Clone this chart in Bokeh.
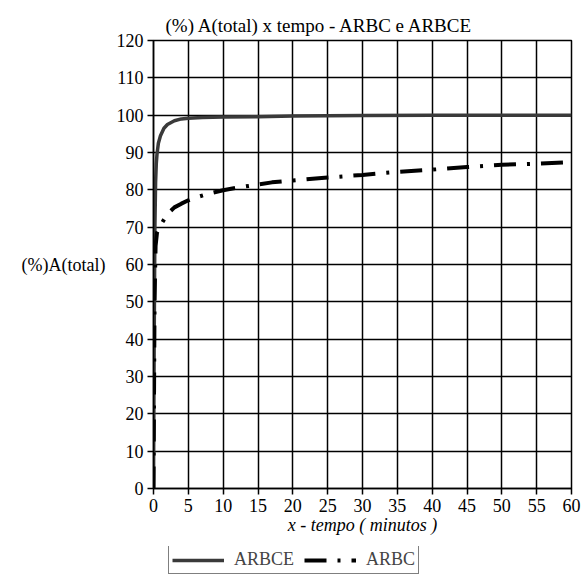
from bokeh.plotting import figure
from bokeh.layouts import column
from bokeh.models import Range1d, SingleIntervalTicker, Legend, LegendItem, Title
from bokeh.embed import file_html
from bokeh.resources import INLINE

# ARBCE series
t_arbce = [0, 0.1, 0.2, 0.3, 0.4, 0.5, 0.7, 1, 1.5, 2, 3, 4, 5, 7, 10, 15, 20, 30, 40, 50, 60]
v_arbce = [0, 40, 70, 82, 87, 89.5, 92.5, 94.5, 96.5, 97.5, 98.5, 99, 99.2, 99.4, 99.5, 99.6, 99.8, 99.9, 100, 100, 100]

# ARBC series
t_arbc = [0, 0.15, 0.3, 0.5, 1, 2, 3, 4, 5, 6, 8, 10, 12, 15, 17, 20, 25, 30, 35, 40, 45, 50, 55, 60]
v_arbc = [0, 50, 65, 68.5, 70.5, 73.5, 75.3, 76.3, 77.2, 77.9, 79, 79.9, 80.6, 81.4, 82, 82.5, 83.3, 84, 84.8, 85.4, 86.1, 86.7, 87, 87.4]

series_names = ["ARBCE", "ARBC"]
title_text = "(%) A(total) x tempo - ARBC e ARBCE"
x_label = "x - tempo ( minutos )"
y_label = "(%)A(total)"

FONT = "Liberation Serif"
DASH = "22 11 3 11"

p = figure(width=581, height=546, frame_width=418, frame_height=448,
           min_border_left=153, min_border_right=10, min_border_top=40, min_border_bottom=58,
           x_range=Range1d(0, 60), y_range=Range1d(0, 120),
           output_backend="svg", toolbar_location=None)

t = Title(text=title_text, text_font=FONT, text_font_size="19px", text_font_style="normal",
          align="left", offset=12, text_color="black")
p.add_layout(t, "above")

p.xaxis.ticker = SingleIntervalTicker(interval=5)
p.yaxis.ticker = SingleIntervalTicker(interval=10)
for ax in (p.xaxis, p.yaxis):
    ax.axis_line_color = "black"
    ax.axis_line_width = 1.5
    ax.major_tick_line_color = "black"
    ax.major_tick_line_width = 1.5
    ax.major_tick_in = 0
    ax.major_tick_out = 6
    ax.minor_tick_line_color = None
    ax.major_label_text_font = FONT
    ax.major_label_text_font_size = "18px"
    ax.major_label_text_color = "black"
    ax.axis_label_text_font = FONT
    ax.axis_label_text_color = "black"
    ax.axis_label_text_font_size = "18px"

p.xaxis.major_label_standoff = 4
p.yaxis.major_label_standoff = 4

p.xaxis.axis_label = x_label
p.xaxis.axis_label_text_font_style = "italic"
p.xaxis.axis_label_standoff = 0

p.yaxis.axis_label = y_label
p.yaxis.axis_label_orientation = "horizontal"
p.yaxis.axis_label_text_font_style = "normal"
p.yaxis.axis_label_standoff = 8

p.grid.grid_line_color = "black"
p.grid.grid_line_width = 1.5
p.grid.grid_line_alpha = 1
p.outline_line_color = "black"
p.outline_line_width = 1.5
p.background_fill_color = "white"
p.border_fill_color = "white"

p.line(t_arbce, v_arbce, line_color="#3a3a3a", line_width=3.5)
p.line(t_arbc, v_arbc, line_color="black", line_width=4, line_dash=DASH)

# Legend strip below the chart (its frame is aligned with the chart's frame)
lg = figure(width=581, height=28, min_border=0, x_range=Range1d(0, 1), y_range=Range1d(-2, -1),
            x_axis_type=None, y_axis_type=None, output_backend="svg", toolbar_location=None)
lg.outline_line_color = None
lg.background_fill_color = "white"
lg.border_fill_color = "white"
g1 = lg.line(t_arbce, v_arbce, line_color="#3a3a3a", line_width=3.5)
g2 = lg.line(t_arbc, v_arbc, line_color="black", line_width=4, line_dash=DASH)
legend = Legend(items=[LegendItem(label=series_names[0], renderers=[g1]),
                       LegendItem(label=series_names[1], renderers=[g2])],
                orientation="horizontal", location=(15, 0),
                label_text_font=FONT, label_text_font_size="18px",
                border_line_color="black", border_line_width=1.5,
                glyph_width=52, glyph_height=20, padding=3, spacing=10,
                label_standoff=10, margin=0, background_fill_alpha=1)
lg.add_layout(legend, "center")

layout = column(p, lg, spacing=0)
open("out.html", "w").write(file_html(layout, INLINE))
